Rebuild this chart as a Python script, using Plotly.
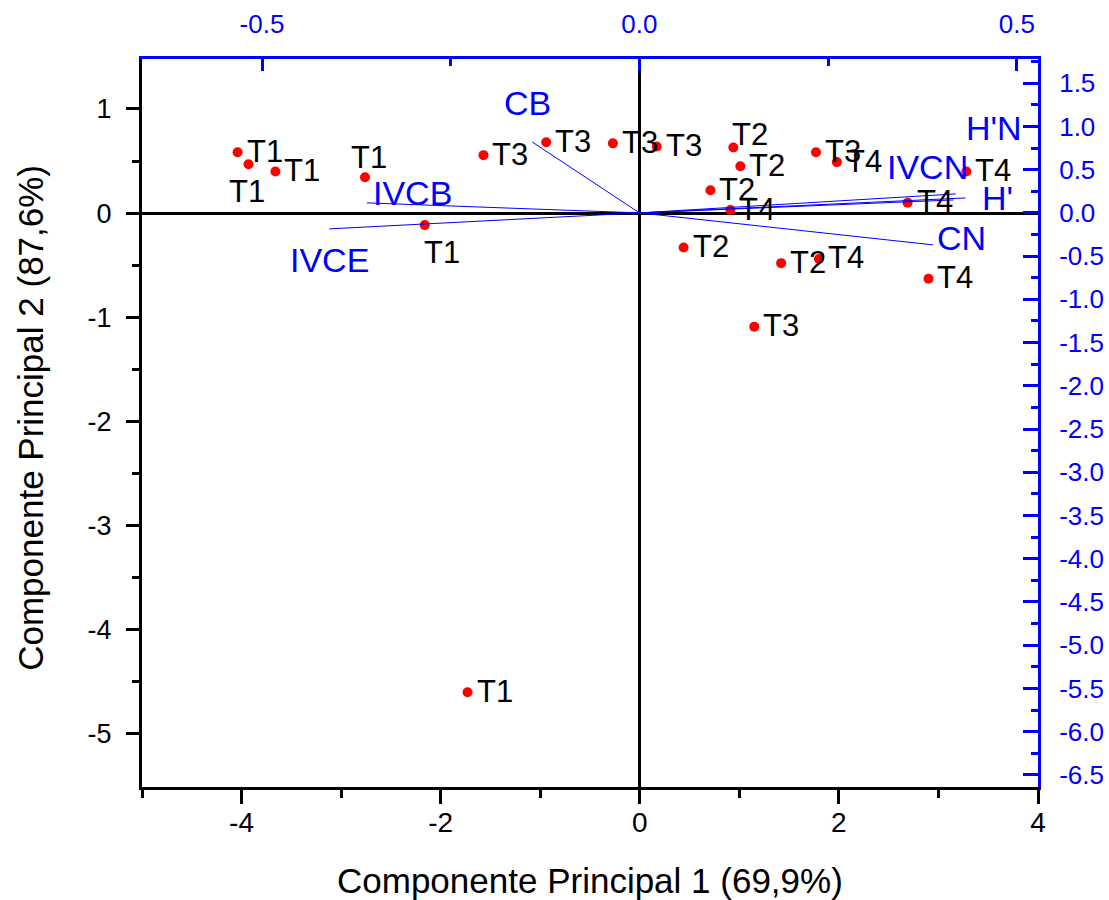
import plotly.graph_objects as go

# ---------------- data ----------------
# sample scores (PC1, PC2) and treatment labels
score_pc1 = [-4.04, -3.93, -3.66, -2.76, -1.57, -0.94, -0.27, 0.17, -2.16, -1.73,
             0.94, 1.01, 0.71, 0.91, 0.44, 1.42, 1.15, 1.77, 1.98, 1.80, 2.69, 2.90, 3.28]
score_pc2 = [0.585, 0.47, 0.40, 0.345, 0.557, 0.68, 0.67, 0.64, -0.115, -4.60,
             0.63, 0.45, 0.22, 0.03, -0.33, -0.48, -1.09, 0.585, 0.49, -0.44, 0.10, -0.63, 0.40]
score_label = ["T1", "T1", "T1", "T1", "T3", "T3", "T3", "T3", "T1", "T1",
               "T2", "T2", "T2", "T4", "T2", "T2", "T3", "T3", "T4", "T4", "T4", "T4", "T4"]

# variable loadings (top / right axes)
var_names = ["CB", "IVCB", "IVCE", "H'N", "IVCN", "H'", "CN"]
load_pc1 = [-0.142, -0.361, -0.411, 0.419, 0.416, 0.432, 0.389]
load_pc2 = [0.82, 0.116, -0.185, 0.22, 0.15, 0.173, -0.37]

# tick labels
bottom_vals = [-4, -2, 0, 2, 4]
bottom_text = ["-4", "-2", "0", "2", "4"]
left_vals = [1, 0, -1, -2, -3, -4, -5]
left_text = ["1", "0", "-1", "-2", "-3", "-4", "-5"]
top_vals = [-0.5, 0.0, 0.5]
top_text = ["-0.5", "0.0", "0.5"]
right_vals = [1.5, 1.0, 0.5, 0.0, -0.5, -1.0, -1.5, -2.0, -2.5, -3.0, -3.5,
              -4.0, -4.5, -5.0, -5.5, -6.0, -6.5]
right_text = ["1.5", "1.0", "0.5", "0.0", "-0.5", "-1.0", "-1.5", "-2.0", "-2.5", "-3.0", "-3.5",
              "-4.0", "-4.5", "-5.0", "-5.5", "-6.0", "-6.5"]

x_title = "Componente Principal 1 (69,9%)"
y_title = "Componente Principal 2 (87,6%)"

# ---------------- styling ----------------
FONT = "Liberation Sans, Arial, sans-serif"
BLUE = "#0000FF"

# label placement for each score label (style only)
score_place = ["r", "b", "r", "t", "r", "r", "r", "r", "br", "r",
               "tr", "r", "r", "r", "r", "r", "r", "r", "r", "r", "r", "r", "r"]
place_cfg = {
    "r": dict(xanchor="left", yanchor="middle", xshift=7, yshift=1),
    "b": dict(xanchor="center", yanchor="top", xshift=-2, yshift=-8),
    "t": dict(xanchor="center", yanchor="bottom", xshift=4, yshift=0),
    "br": dict(xanchor="left", yanchor="top", xshift=-3, yshift=-8),
    "tr": dict(xanchor="left", yanchor="bottom", xshift=-3, yshift=-6),
}
# pixel offsets of variable labels relative to vector tips (style only)
var_offsets = [(-5, 39), (46, 10), (0, -31), (38, 66), (-26, 33), (32, 0), (28, 7)]

fig = go.Figure()

for vx, vy in zip(load_pc1, load_pc2):
    fig.add_trace(go.Scatter(x=[0, vx], y=[0, vy], mode="lines",
                             line=dict(color=BLUE, width=1),
                             xaxis="x2", yaxis="y2", hoverinfo="skip", showlegend=False))

fig.add_trace(go.Scatter(x=score_pc1, y=score_pc2, mode="markers",
                         marker=dict(color="#FF0000", size=10),
                         xaxis="x", yaxis="y", hoverinfo="skip", showlegend=False))

annotations = []
for x, y, lab, pl in zip(score_pc1, score_pc2, score_label, score_place):
    annotations.append(dict(x=x, y=y, xref="x", yref="y", text=lab, showarrow=False,
                            font=dict(family=FONT, size=31, color="black"), **place_cfg[pl]))

for name, vx, vy, (dx, dy) in zip(var_names, load_pc1, load_pc2, var_offsets):
    annotations.append(dict(x=vx, y=vy, xref="x2", yref="y2", text=name, showarrow=False,
                            xanchor="center", yanchor="middle", xshift=dx, yshift=dy,
                            font=dict(family=FONT, size=34, color=BLUE)))

annotations.append(dict(x=0.5, y=-0.128, xref="paper", yref="paper", text=x_title,
                        showarrow=False, xanchor="center", yanchor="middle",
                        font=dict(family=FONT, size=35, color="black")))
annotations.append(dict(x=-0.124, y=0.507, xref="paper", yref="paper", text=y_title,
                        showarrow=False, xanchor="center", yanchor="middle", textangle=-90,
                        font=dict(family=FONT, size=35, color="black")))

fig.update_layout(
    width=1109, height=900,
    margin=dict(l=142, r=71, t=59, b=113, autoexpand=False),
    paper_bgcolor="white", plot_bgcolor="white",
    showlegend=False,
    annotations=annotations,
    xaxis=dict(range=[-5, 4], tickmode="array", tickvals=bottom_vals, ticktext=bottom_text,
               ticks="outside", ticklen=14, tickwidth=3, tickcolor="black",
               minor=dict(tickmode="array", tickvals=[-5, -3, -1, 1, 3], ticks="outside",
                          ticklen=8, tickwidth=3, tickcolor="black"),
               showline=True, linewidth=3, linecolor="black",
               zeroline=True, zerolinecolor="black", zerolinewidth=3,
               showgrid=False, tickfont=dict(family=FONT, size=28, color="black"),
               ticklabelstandoff=-6),
    yaxis=dict(range=[-5.51, 1.48], tickmode="array", tickvals=left_vals, ticktext=left_text,
               ticks="outside", ticklen=13, tickwidth=3, tickcolor="black",
               minor=dict(tickmode="array", tickvals=[0.5, -0.5, -1.5, -2.5, -3.5, -4.5],
                          ticks="outside", ticklen=7, tickwidth=3, tickcolor="black"),
               showline=True, linewidth=3, linecolor="black",
               zeroline=True, zerolinecolor="black", zerolinewidth=3,
               showgrid=False, tickfont=dict(family=FONT, size=27, color="black"),
               ticklabelstandoff=9),
    xaxis2=dict(range=[-0.659, 0.528], overlaying="x", side="top", anchor="y",
                tickmode="array", tickvals=top_vals, ticktext=top_text,
                ticks="inside", ticklen=12, tickwidth=3, tickcolor=BLUE,
                minor=dict(tickmode="array", tickvals=[-0.25, 0.25], ticks="inside",
                           ticklen=7, tickwidth=3, tickcolor=BLUE),
                showline=True, linewidth=3, linecolor=BLUE,
                zeroline=False, showgrid=False,
                tickfont=dict(family=FONT, size=26, color=BLUE),
                ticklabelstandoff=13),
    yaxis2=dict(range=[-6.64, 1.78], overlaying="y", side="right", anchor="x",
                tickmode="array", tickvals=right_vals, ticktext=right_text,
                ticks="inside", ticklen=15, tickwidth=3, tickcolor=BLUE,
                minor=dict(tickmode="array",
                           tickvals=[1.75, 1.25, 0.75, 0.25, -0.25, -0.75, -1.25, -1.75, -2.25,
                                     -2.75, -3.25, -3.75, -4.25, -4.75, -5.25, -5.75, -6.25],
                           ticks="inside", ticklen=7, tickwidth=3, tickcolor=BLUE),
                showline=True, linewidth=3, linecolor=BLUE,
                zeroline=False, showgrid=False,
                tickfont=dict(family=FONT, size=26, color=BLUE),
                ticklabelstandoff=13),
)

# remove the default 8px page margin so the 1109x900 figure fills the window exactly
fig.write_html("out.html", config={"displayModeBar": False},
               post_script="document.body.style.margin='0px';")
